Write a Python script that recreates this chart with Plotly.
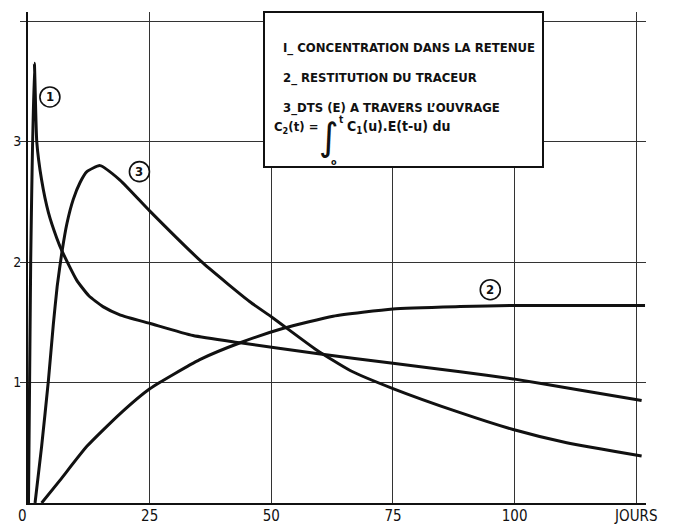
import plotly.graph_objects as go

# Curve 1: concentration in the reservoir
x1 = [0.1, 0.55, 1.3, 1.8, 2.8, 4.2, 5.9, 7.0, 10.0, 12.5, 15.4, 19.0, 25.1, 33.9, 43.6, 59.3, 75, 88.8, 99.7, 113.0, 126.1]
y1 = [0.0, 2.0, 3.65, 3.0, 2.68, 2.41, 2.20, 2.09, 1.85, 1.72, 1.63, 1.56, 1.49, 1.39, 1.33, 1.24, 1.16, 1.09, 1.03, 0.94, 0.85]

# Curve 2: tracer restitution
x2 = [2.8, 6.6, 12.1, 18.9, 25.1, 35.3, 43.6, 52.5, 62.7, 75, 88.8, 99.7, 126.8]
y2 = [0.0, 0.19, 0.47, 0.74, 0.95, 1.19, 1.33, 1.45, 1.55, 1.61, 1.63, 1.64, 1.64]

# Curve 3: residence time distribution
x3 = [1.45, 2.8, 4.2, 5.2, 6.0, 7.0, 8.0, 9.3, 10.7, 12.1, 14.8, 18.9, 25.1, 36.0, 45.6, 50.2, 59.3, 66.2, 75, 88.8, 99.7, 110.7, 126.1]
y3 = [0.0, 0.47, 1.02, 1.48, 1.80, 2.09, 2.32, 2.52, 2.66, 2.75, 2.80, 2.68, 2.42, 1.99, 1.67, 1.54, 1.27, 1.10, 0.95, 0.75, 0.61, 0.50, 0.39]

x_tickvals = [0, 25, 50, 75, 100, 125]
x_ticktext = ["", "25", "50", "75", "100", "JOURS"]
y_tickvals = [1, 2, 3, 4]
y_ticktext = ["1", "2", "3", ""]

legend_lines = [
    "I_ CONCENTRATION DANS LA RETENUE",
    "2_ RESTITUTION DU TRACEUR",
    "3_DTS (E) A TRAVERS L\u2019OUVRAGE",
]

curve_labels = ["1", "2", "3"]
label_x = [4.5, 95.0, 22.9]
label_y = [3.37, 1.77, 2.75]

FONT = "Liberation Sans Narrow, DejaVu Sans Condensed, Arial Narrow, sans-serif"

W, H = 673, 524
L, R, T, B = 28, 27, 12, 21
PW, PH = W - L - R, H - T - B


def px(xp):
    return (xp - L) / PW


def py(yp):
    return (H - B - yp) / PH


fig = go.Figure()
for xs, ys in [(x1, y1), (x2, y2), (x3, y3)]:
    fig.add_trace(go.Scatter(x=xs, y=ys, mode="lines",
                             line=dict(color="#111", width=3, shape="spline", smoothing=0.5),
                             hoverinfo="skip", showlegend=False))

shapes = []
annotations = []

# circled curve labels
for t, lx, ly in zip(curve_labels, label_x, label_y):
    shapes.append(dict(type="circle", xref="x", yref="y", xsizemode="pixel", ysizemode="pixel",
                       xanchor=lx, yanchor=ly, x0=-10, x1=10, y0=-10, y1=10,
                       line=dict(color="#111", width=1.6), layer="above"))
    annotations.append(dict(x=lx, y=ly, xref="x", yref="y", text="<b>" + t + "</b>", showarrow=False,
                            font=dict(family=FONT, size=13, color="#111")))

# legend box
shapes.append(dict(type="rect", xref="paper", yref="paper",
                   x0=px(264), x1=px(543), y0=py(167), y1=py(12),
                   fillcolor="white", line=dict(color="#111", width=2), layer="above"))

for txt, yy in zip(legend_lines, [48, 78, 108]):
    annotations.append(dict(x=px(281), y=py(yy), xref="paper", yref="paper", text="<b>" + txt + "</b>",
                            showarrow=False, xanchor="left", yanchor="middle",
                            font=dict(family=FONT, size=13, color="#111")))

# formula
annotations += [
    dict(x=px(272), y=py(127), xref="paper", yref="paper", text="<b>C<sub>2</sub>(t) =</b>",
         showarrow=False, xanchor="left", yanchor="middle", font=dict(family=FONT, size=13, color="#111")),
    dict(x=px(329), y=py(137), xref="paper", yref="paper", text="\u222B",
         showarrow=False, xanchor="center", yanchor="middle", font=dict(family="DejaVu Sans", size=38, color="#111")),
    dict(x=px(341), y=py(119), xref="paper", yref="paper", text="<b>t</b>",
         showarrow=False, xanchor="center", yanchor="middle", font=dict(family=FONT, size=10, color="#111")),
    dict(x=px(334), y=py(162), xref="paper", yref="paper", text="<b>o</b>",
         showarrow=False, xanchor="center", yanchor="middle", font=dict(family=FONT, size=9, color="#111")),
    dict(x=px(345), y=py(127), xref="paper", yref="paper", text="<b>C<sub>1</sub>(u).E(t-u) du</b>",
         showarrow=False, xanchor="left", yanchor="middle", font=dict(family=FONT, size=14, color="#111")),
    # x-axis origin label
    dict(x=0, y=0, xref="x", yref="y", text="0", showarrow=False, xanchor="center", yanchor="top",
         xshift=-6, yshift=-2, font=dict(family=FONT, size=15, color="#111")),
]

fig.update_layout(
    width=W, height=H,
    margin=dict(l=L, r=R, t=T, b=B, pad=0, autoexpand=False),
    paper_bgcolor="white", plot_bgcolor="white",
    shapes=shapes, annotations=annotations,
    xaxis=dict(range=[0, 127], tickvals=x_tickvals, ticktext=x_ticktext, automargin=False,
               showgrid=True, gridcolor="#333", gridwidth=1,
               showline=True, linecolor="#111", linewidth=2,
               ticks="", zeroline=False, ticklabelstandoff=-2,
               tickfont=dict(family=FONT, size=15, color="#111")),
    yaxis=dict(range=[0, 4.075], tickvals=y_tickvals, ticktext=y_ticktext, automargin=False,
               showgrid=True, gridcolor="#333", gridwidth=1,
               showline=True, linecolor="#111", linewidth=2,
               ticks="outside", ticklen=6, tickcolor="#333", zeroline=False,
               ticklabelstandoff=-4,
               tickfont=dict(family=FONT, size=14, color="#111")),
)

fig.write_html("out.html", config={"displayModeBar": False},
               post_script="document.body.style.margin='0';document.body.style.padding='0';")
